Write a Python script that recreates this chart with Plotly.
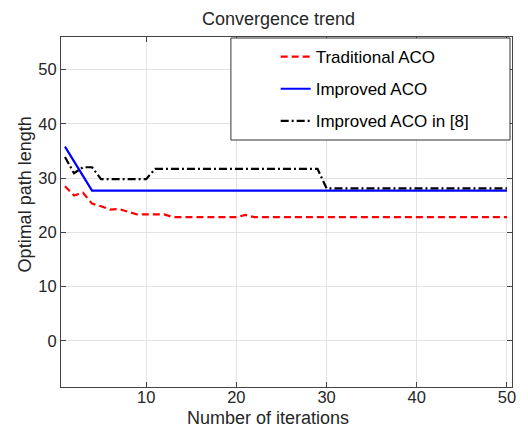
import plotly.graph_objects as go

iterations = list(range(1, 51))
traditional_aco = [28.5, 26.8, 27.3, 25.3, 24.8, 24.2, 24.3, 23.8, 23.3, 23.3,
                   23.3, 23.3] + [22.8] * 8 + [23.2] + [22.8] * 29
improved_aco = [35.8, 33.1, 30.4] + [27.7] * 47
improved_aco_8 = [33.9, 30.9, 32.0, 32.0] + [29.8] * 6 + [31.7] * 19 + [28.1] * 21

names = ["Traditional ACO", "Improved ACO", "Improved ACO in [8]"]
colors = ["#ff0000", "#0000ff", "#000000"]
dashes = ["7px,4px", "solid", "8px,3px,2px,3px"]
series = [traditional_aco, improved_aco, improved_aco_8]

x_ticks = [10, 20, 30, 40, 50]
y_ticks = [0, 10, 20, 30, 40, 50]

FONT = "Liberation Sans, Arial, sans-serif"
TXT = "#262626"

fig = go.Figure()
for nm, ys, c, d in zip(names, series, colors, dashes):
    fig.add_trace(go.Scatter(x=iterations, y=ys, mode="lines", name=nm,
                             legendgroup=nm,
                             line=dict(color=c, width=2.2, dash=d)))

axis_common = dict(showline=True, linecolor="#444444", linewidth=1, mirror="ticks",
                   ticks="inside", ticklen=5, tickcolor="#444444",
                   showgrid=True, gridcolor="#e3e3e3", gridwidth=1,
                   zeroline=False, tickfont=dict(family=FONT, size=16.5, color=TXT))

fig.update_xaxes(range=[0.56, 50.56], tickvals=x_ticks, ticklabelstandoff=-5, **axis_common)
fig.update_yaxes(range=[-8.5, 56], tickvals=y_ticks, **axis_common)

# page body adds an 8px margin, so the figure is 8px smaller and margins shifted
fig.update_layout(
    width=520, height=433,
    margin=dict(l=53, r=13, t=29, b=54),
    plot_bgcolor="white", paper_bgcolor="white",
    showlegend=True,
    legend=dict(x=0.476, y=0.994, xanchor="left", yanchor="top",
                bgcolor="rgba(0,0,0,0)", borderwidth=0,
                font=dict(family=FONT, size=17, color="#000000"),
                tracegroupgap=7),
    shapes=[dict(type="rect", xref="paper", yref="paper",
                 x0=0.3767, x1=0.9956, y0=0.7057, y1=0.9971,
                 fillcolor="white", line=dict(color="#333333", width=1),
                 layer="above")],
    annotations=[
        dict(text="Convergence trend", xref="paper", yref="paper", x=0.4824, y=1.0829,
             xanchor="center", yanchor="top", showarrow=False, borderpad=0,
             font=dict(family=FONT, size=18, color=TXT)),
        dict(text="Number of iterations", xref="paper", yref="paper", x=0.458, y=-0.0886,
             xanchor="center", yanchor="middle", showarrow=False,
             font=dict(family=FONT, size=18, color=TXT)),
        dict(text="Optimal path length", xref="paper", yref="paper", x=-0.0793, y=0.551,
             xanchor="center", yanchor="middle", showarrow=False, textangle=-90,
             font=dict(family=FONT, size=18, color=TXT)),
    ],
)

fig.write_html("out.html")
